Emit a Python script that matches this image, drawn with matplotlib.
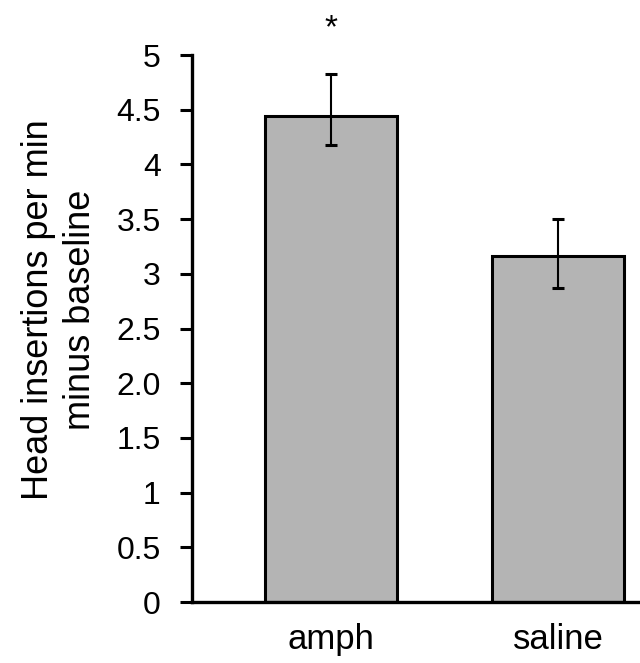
import numpy as np
import matplotlib.pyplot as plt

plt.rcParams['font.family'] = ['Liberation Sans', 'DejaVu Sans']

groups = ['amph', 'saline']
means = [4.44, 3.16]
err_low = [0.26, 0.29]
err_high = [0.39, 0.34]
yticks = [0, 0.5, 1, 1.5, 2.0, 2.5, 3, 3.5, 4, 4.5, 5]
ytick_labels = ['0', '0.5', '1', '1.5', '2.0', '2.5', '3', '3.5', '4', '4.5', '5']

fig = plt.figure(figsize=(6.4, 6.63), dpi=100)
ax = fig.add_axes([0.3, 0.092, 0.7, 0.825])

x = np.arange(len(groups))
ax.bar(x, means, width=0.58, color='#b4b4b4', edgecolor='black', linewidth=2.2, zorder=2)
ax.errorbar(x, means, yerr=[err_low, err_high], fmt='none', ecolor='black', elinewidth=1.5,
            capsize=4, capthick=2.2, zorder=3)

# significance marker
ax.text(x[0], 5.24, '*', ha='center', va='center', fontsize=24, clip_on=False)

ax.set_xlim(-0.612, 1.361)
ax.set_ylim(0, 5)
ax.set_yticks(yticks)
ax.set_yticklabels(ytick_labels, fontsize=23)
ax.set_xticks(x)
ax.set_xticklabels(groups, fontsize=25)

ax.spines['top'].set_visible(False)
ax.spines['right'].set_visible(False)
ax.spines['left'].set_linewidth(2.4)
ax.spines['bottom'].set_linewidth(2.4)
ax.tick_params(axis='y', length=8.5, width=2.2, pad=14)
ax.tick_params(axis='x', length=0, pad=15)

ax.set_ylabel('Head insertions per min\nminus baseline', fontsize=26, linespacing=1.25)
ax.yaxis.set_label_coords(-0.21, 0.534)

fig.savefig('out.png', dpi=100)
